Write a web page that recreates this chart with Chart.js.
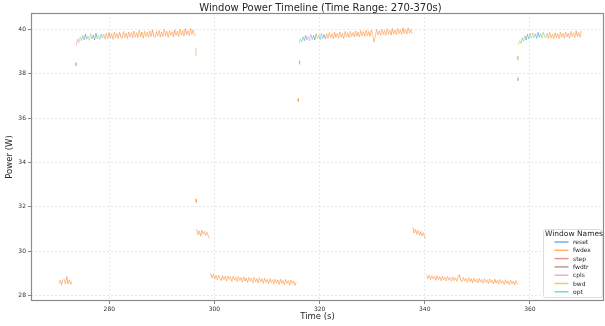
<!DOCTYPE html>
<html>
<head>
<meta charset="utf-8">
<script src="https://cdn.jsdelivr.net/npm/chart.js@4.4.1/dist/chart.umd.min.js"></script>
<style>
  html, body { margin: 0; padding: 0; background: #fff; }
  canvas { display: block; }
</style>
</head>
<body>
<canvas id="powerChart" width="605" height="326"></canvas>
<script>
// window names (legend order)
const windowNames = ["reset", "fwdex", "step", "fwdtr", "cpls", "bwd", "opt"];

// tick labels
const xTicks = [280, 300, 320, 340, 360];
const yTicks = [28, 30, 32, 34, 36, 38, 40];

// power readings (W); each run is sampled every runSteps[r] seconds from runStarts[r]
const lowRun1 = [28.55, 28.70, 28.50, 28.68, 28.74, 28.52, 28.86, 28.54, 28.71, 28.50, 28.66];

const highRun1 = [
  39.25, 39.55, 39.40, 39.66, 39.48, 39.72, 39.52, 39.78, 39.55, 39.70,
  39.50, 39.80, 39.56, 39.74, 39.52, 39.82, 39.58, 39.74, 39.54, 39.79, 39.60,
  39.78, 39.55, 39.82, 39.58, 39.85, 39.60, 39.80, 39.54, 39.87, 39.62,
  39.81, 39.57, 39.86, 39.63, 39.58, 39.90, 39.62, 39.83, 39.58, 39.88,
  39.65, 39.85, 39.60, 39.92, 39.64, 39.84, 39.62, 39.95, 39.66, 39.87,
  39.60, 39.91, 39.67, 39.86, 39.63, 39.93, 39.66, 39.97, 39.68, 39.62,
  39.90, 39.69, 39.95, 39.64, 39.88, 39.67, 39.99, 39.70, 39.91, 39.63,
  39.94, 39.71, 39.89, 39.66, 39.98, 39.72, 39.92, 39.67, 40.01, 39.73,
  39.95, 39.69, 40.03, 39.75, 39.93, 39.71, 40.04, 39.77, 39.97, 39.72,
  39.70
];

const midRun1 = [31.00, 30.74, 30.92, 30.68, 30.95, 30.76, 30.90, 30.70, 30.86, 30.66, 30.56];

const lowRun2 = [
  29.00, 28.80, 28.96, 28.74, 28.93, 28.71, 28.92, 28.76, 28.68, 28.90,
  28.72, 28.88, 28.66, 28.89, 28.73, 28.86, 28.64, 28.88, 28.70, 28.84,
  28.63, 28.87, 28.68, 28.82, 28.61, 28.85, 28.66, 28.80, 28.59, 28.83,
  28.65, 28.79, 28.58, 28.82, 28.63, 28.77, 28.57, 28.81, 28.61, 28.76,
  28.55, 28.79, 28.60, 28.74, 28.53, 28.77, 28.59, 28.72, 28.52, 28.75,
  28.57, 28.71, 28.50, 28.74, 28.56, 28.69, 28.49, 28.73, 28.55, 28.68,
  28.47, 28.71, 28.53, 28.67, 28.46, 28.62
];

const highRun2 = [
  39.35, 39.58, 39.42, 39.66, 39.48, 39.72, 39.52, 39.68, 39.48, 39.76,
  39.54, 39.72, 39.52, 39.80, 39.56, 39.75, 39.53, 39.82, 39.58, 39.76,
  39.56, 39.80, 39.59, 39.85, 39.61, 39.79, 39.57, 39.86, 39.63, 39.81,
  39.60, 39.88, 39.64, 39.82, 39.58, 39.90, 39.65, 39.84, 39.62, 39.91,
  39.67, 39.85, 39.65, 39.92, 39.68, 39.87, 39.65, 39.94, 39.70, 39.89,
  39.67, 39.96, 39.71, 39.90, 39.68, 39.97, 39.73, 39.42, 39.70, 39.99,
  39.74, 39.93, 39.71, 40.00, 39.76, 39.94, 39.72, 40.02, 39.77, 39.96,
  39.74, 40.03, 39.79, 39.97, 39.75, 40.04, 39.80, 39.98, 39.77, 40.06,
  39.81, 39.99, 39.78, 40.07, 39.82, 40.00, 39.79
];

const midRun2 = [31.06, 30.82, 30.98, 30.76, 30.94, 30.72, 30.89, 30.68, 30.84, 30.62, 30.55];

const lowRun3 = [
  28.95, 28.76, 28.92, 28.72, 28.90, 28.75, 28.88, 28.69, 28.89, 28.73,
  28.86, 28.67, 28.88, 28.71, 28.84, 28.66, 28.87, 28.70, 28.82, 28.65,
  28.85, 28.68, 28.81, 28.64, 28.84, 28.95, 28.70, 28.62, 28.82, 28.66,
  28.78, 28.60, 28.81, 28.64, 28.76, 28.58, 28.79, 28.62, 28.75, 28.57,
  28.78, 28.61, 28.73, 28.55, 28.77, 28.60, 28.72, 28.54, 28.76, 28.58,
  28.71, 28.53, 28.74, 28.57, 28.70, 28.52, 28.73, 28.56, 28.68, 28.50,
  28.72, 28.55, 28.67, 28.49, 28.70, 28.53, 28.66, 28.48, 28.68, 28.51
];

const highRun3 = [
  39.28, 39.48, 39.36, 39.62, 39.46, 39.70, 39.52, 39.78, 39.56, 39.82,
  39.60, 39.84, 39.62, 39.80, 39.58, 39.86, 39.64, 39.80, 39.60, 39.87, 39.66,
  39.62, 39.82, 39.58, 39.85, 39.61, 39.79, 39.56, 39.84, 39.63, 39.80,
  39.57, 39.86, 39.64, 39.81, 39.59, 39.88, 39.65, 39.83, 39.60, 39.90,
  39.67, 39.84, 39.62, 39.93, 39.68, 39.86, 39.64, 39.94
];

// short isolated readings
const blipA = [38.50, 38.34];
const blipB = [39.15, 38.80];
const blipC = [32.36, 32.20];
const blipD = [36.88, 36.74];
const blipE = [38.58, 38.42];
const blipF = [38.78, 38.62];
const blipG = [37.82, 37.68];

// which window each stretch of samples belongs to: [first sample index, window]
const lowRun1Windows = [[0, "fwdex"], [2, "step"], [3, "fwdex"], [6, "step"], [7, "fwdex"]];
const highRun1Windows = [[0, "cpls"], [2, "bwd"], [4, "opt"], [6, "reset"], [8, "cpls"], [9, "bwd"], [11, "opt"],
  [13, "fwdtr"], [14, "reset"], [16, "bwd"], [18, "opt"], [20, "cpls"], [21, "fwdex"],
  [25, "step"], [26, "fwdex"], [33, "step"], [34, "fwdex"], [41, "cpls"], [42, "fwdex"], [49, "step"], [50, "fwdex"],
  [58, "step"], [59, "fwdex"], [66, "cpls"], [67, "fwdex"], [74, "step"], [75, "fwdex"], [83, "step"], [84, "fwdex"]];
const midRun1Windows = [[0, "fwdex"], [3, "step"], [4, "fwdex"], [7, "cpls"], [8, "fwdex"]];
const lowRun2Windows = [[0, "step"], [1, "fwdex"], [8, "step"], [9, "fwdex"], [17, "cpls"], [18, "fwdex"],
  [26, "step"], [27, "fwdex"], [35, "step"], [36, "fwdex"], [44, "cpls"], [45, "fwdex"], [53, "step"], [54, "fwdex"]];
const highRun2Windows = [[0, "bwd"], [2, "opt"], [4, "reset"], [6, "bwd"], [7, "cpls"], [9, "opt"], [11, "reset"],
  [13, "bwd"], [15, "opt"], [17, "cpls"], [18, "reset"], [20, "fwdex"],
  [27, "step"], [28, "fwdex"], [35, "cpls"], [36, "fwdex"], [44, "step"], [45, "fwdex"], [53, "step"], [54, "fwdex"],
  [62, "cpls"], [63, "fwdex"], [70, "step"], [71, "fwdex"], [79, "step"], [80, "fwdex"]];
const midRun2Windows = [[0, "step"], [1, "fwdex"], [5, "step"], [6, "fwdex"]];
const lowRun3Windows = [[0, "fwdex"], [7, "step"], [8, "fwdex"], [16, "cpls"], [17, "fwdex"], [25, "step"], [26, "fwdex"],
  [34, "step"], [35, "fwdex"], [43, "cpls"], [44, "fwdex"], [52, "step"], [53, "fwdex"], [61, "step"], [62, "fwdex"]];
const highRun3Windows = [[0, "bwd"], [2, "opt"], [4, "bwd"], [5, "reset"], [7, "opt"], [9, "cpls"], [10, "bwd"],
  [12, "opt"], [14, "reset"], [16, "opt"], [18, "bwd"], [19, "opt"], [21, "fwdex"],
  [28, "step"], [29, "fwdex"], [36, "cpls"], [37, "fwdex"], [44, "step"], [45, "fwdex"]];

const runStarts = [270.4, 273.62, 273.7, 296.45, 296.5, 296.6, 299.3, 315.9, 316.15, 316.1, 337.75, 340.35, 357.68, 357.7, 357.8];
const runSteps  = [0.25, 0.04, 0.25, 0.04, 0.04, 0.25, 0.25, 0.04, 0.04, 0.25, 0.25, 0.25, 0.04, 0.04, 0.25];
const runValues = [lowRun1, blipA, highRun1, blipB, blipC, midRun1, lowRun2, blipD, blipE, highRun2, midRun2, lowRun3, blipF, blipG, highRun3];
const runWindows = [lowRun1Windows, [[0, "cpls"]], highRun1Windows, [[0, "fwdex"]], [[0, "fwdex"]], midRun1Windows,
  lowRun2Windows, [[0, "fwdex"]], [[0, "cpls"]], highRun2Windows, midRun2Windows, lowRun3Windows,
  [[0, "bwd"]], [[0, "cpls"]], highRun3Windows];

const windowColors = {
  reset: "rgba(31,119,180,0.6)",
  fwdex: "rgba(255,127,14,0.6)",
  step: "rgba(214,39,40,0.5)",
  fwdtr: "rgba(140,86,75,0.6)",
  cpls: "rgba(227,119,194,0.6)",
  bwd: "rgba(188,189,34,0.6)",
  opt: "rgba(23,190,207,0.6)"
};

function windowAt(changes, i) {
  let w = changes[0][1];
  changes.forEach(([idx, name]) => { if (i >= idx) w = name; });
  return w;
}

// split every run into per-window line pieces, separated by null gaps
const seriesPoints = {};
windowNames.forEach((n) => (seriesPoints[n] = []));

runValues.forEach((values, r) => {
  const pts = values.map((v, i) => ({ x: runStarts[r] + i * runSteps[r], y: v }));
  let cur = null;
  for (let i = 0; i < pts.length - 1; i++) {
    const w = windowAt(runWindows[r], i);
    if (w !== cur) {
      if (cur) seriesPoints[cur].push({ x: pts[i].x, y: null });
      seriesPoints[w].push(pts[i]);
      cur = w;
    }
    seriesPoints[w].push(pts[i + 1]);
  }
  if (cur) seriesPoints[cur].push({ x: pts[pts.length - 1].x, y: null });
});

const FONT = "'DejaVu Sans', 'Liberation Sans', sans-serif";
const TITLE = "Window Power Timeline (Time Range: 270-370s)";

// axes frame, title over the axes, legend box like the matplotlib original
const framePlugin = {
  id: "frame",
  afterDraw(chart) {
    const { ctx, chartArea: a } = chart;
    ctx.save();
    ctx.strokeStyle = "#8c8c8c";
    ctx.lineWidth = 1.2;
    ctx.strokeRect(a.left + 0.5, a.top + 0.5, a.right - a.left - 1, a.bottom - a.top - 1);

    ctx.fillStyle = "#262626";
    ctx.textAlign = "center";
    ctx.textBaseline = "middle";
    ctx.font = "10px " + FONT;
    ctx.fillText(TITLE, (a.left + a.right) / 2 + 3, 8.5);

    // legend
    const w = 59, h = 68;
    const x = a.right - w - 1.5, y = a.bottom - h - 3.5;
    ctx.fillStyle = "rgba(255,255,255,0.85)";
    ctx.strokeStyle = "#d6d6d6";
    ctx.lineWidth = 0.8;
    ctx.beginPath();
    ctx.roundRect(x, y, w, h, 2);
    ctx.fill();
    ctx.stroke();

    ctx.fillStyle = "#262626";
    ctx.font = "7.5px " + FONT;
    ctx.fillText("Window Names", x + w / 2 + 1, y + 4.5);

    ctx.textAlign = "left";
    ctx.font = "6px " + FONT;
    chart.data.datasets.forEach((ds, i) => {
      const ly = y + 12.5 + i * 8.3;
      ctx.strokeStyle = ds.borderColor;
      ctx.lineWidth = 1.5;
      ctx.beginPath();
      ctx.moveTo(x + 11, ly);
      ctx.lineTo(x + 25, ly);
      ctx.stroke();
      ctx.fillStyle = "#262626";
      ctx.fillText(ds.label, x + 29.5, ly + 0.5);
    });
    ctx.restore();
  }
};

new Chart(document.getElementById("powerChart"), {
  type: "line",
  data: {
    datasets: windowNames.map((name) => ({
      label: name,
      data: seriesPoints[name],
      borderColor: windowColors[name],
      borderWidth: 0.8,
      pointRadius: 0,
      tension: 0,
      spanGaps: false
    }))
  },
  options: {
    responsive: false,
    animation: false,
    layout: { padding: { left: 0, right: 1, top: 13, bottom: 0 } },
    plugins: {
      legend: { display: false },
      tooltip: { enabled: false },
      title: { display: false }
    },
    scales: {
      x: {
        type: "linear",
        min: 265.1,
        max: 374.1,
        afterBuildTicks: (scale) => { scale.ticks = xTicks.map((v) => ({ value: v })); },
        afterFit: (scale) => { scale.height = 25; },
        grid: { color: "#dedede", lineWidth: 0.7, tickLength: 3, tickColor: "#555", tickBorderDash: [] },
        border: { display: false, dash: [2, 2] },
        ticks: { color: "#333", font: { family: FONT, size: 6 }, padding: 2, maxRotation: 0, autoSkip: false },
        title: { display: true, text: "Time (s)", color: "#262626", font: { family: FONT, size: 8.5 }, padding: { top: 0, bottom: 4 } }
      },
      y: {
        type: "linear",
        min: 27.76,
        max: 40.73,
        afterBuildTicks: (scale) => { scale.ticks = yTicks.map((v) => ({ value: v })); },
        afterFit: (scale) => { scale.width = 31; },
        grid: { color: "#dedede", lineWidth: 0.7, tickLength: 3, tickColor: "#555", tickBorderDash: [] },
        border: { display: false, dash: [2, 2] },
        ticks: { color: "#333", font: { family: FONT, size: 6 }, padding: 2, autoSkip: false },
        title: { display: true, text: "Power (W)", color: "#262626", font: { family: FONT, size: 8.5 }, padding: { top: 5, bottom: 0 } }
      }
    }
  },
  plugins: [framePlugin]
});
</script>
</body>
</html>
